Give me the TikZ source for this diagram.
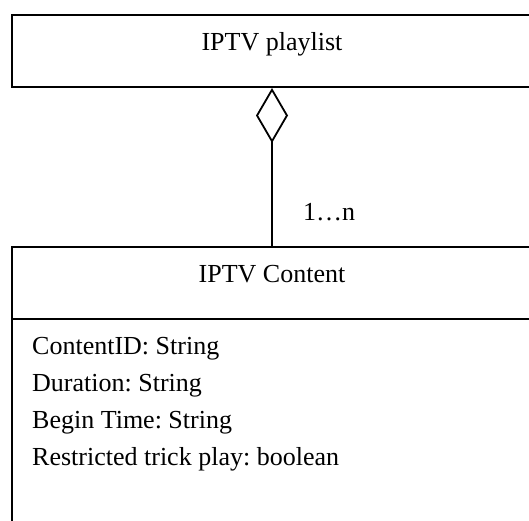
\documentclass[tikz,border=0pt]{standalone}
\usepackage{fontspec}
\setmainfont{Liberation Serif}
\frenchspacing
\usetikzlibrary{arrows.meta}
\tikzset{
  classbox/.style={draw, line width=2pt, minimum width=560pt, anchor=north west, inner sep=0pt},
  umltext/.style={font=\fontsize{26}{31}\selectfont, inner sep=0pt},
  aggr/.style={line width=1.8pt, -{Diamond[open, length=55pt, width=32pt, line width=1.8pt]}}
}
\begin{document}
\begin{tikzpicture}[x=1pt, y=-1pt]
\useasboundingbox (0,0) rectangle (529,520);
\clip (0,0) rectangle (529,520);
% class boxes
\node[classbox, minimum height=72pt] (playlist) at (11,14) {};
\node[classbox, minimum height=400pt] (content) at (11,246) {};
\draw[line width=2pt] (11,319) -- (600,319);
% class names
\node[umltext, anchor=base] (playlistname) at (272,50) {IPTV playlist};
\node[umltext, anchor=base] (contentname) at (272,282) {IPTV Content};
% aggregation
\coordinate (linkbottom) at (playlistname |- content.north);
\coordinate (linktop) at (playlistname |- playlist.south);
\draw[aggr] (linkbottom) -- (linktop);
\node[umltext, anchor=base west] (mult) at (303,220) {1…n};
% attributes
\node[umltext, anchor=base west] (attrid) at (32,354) {ContentID: String};
\node[umltext, anchor=base west] (attrdur) at (32,391) {Duration: String};
\node[umltext, anchor=base west] (attrbegin) at (32,428) {Begin Time: String};
\node[umltext, anchor=base west] (attrtrick) at (32,465) {Restricted trick play: boolean};
\end{tikzpicture}
\end{document}
